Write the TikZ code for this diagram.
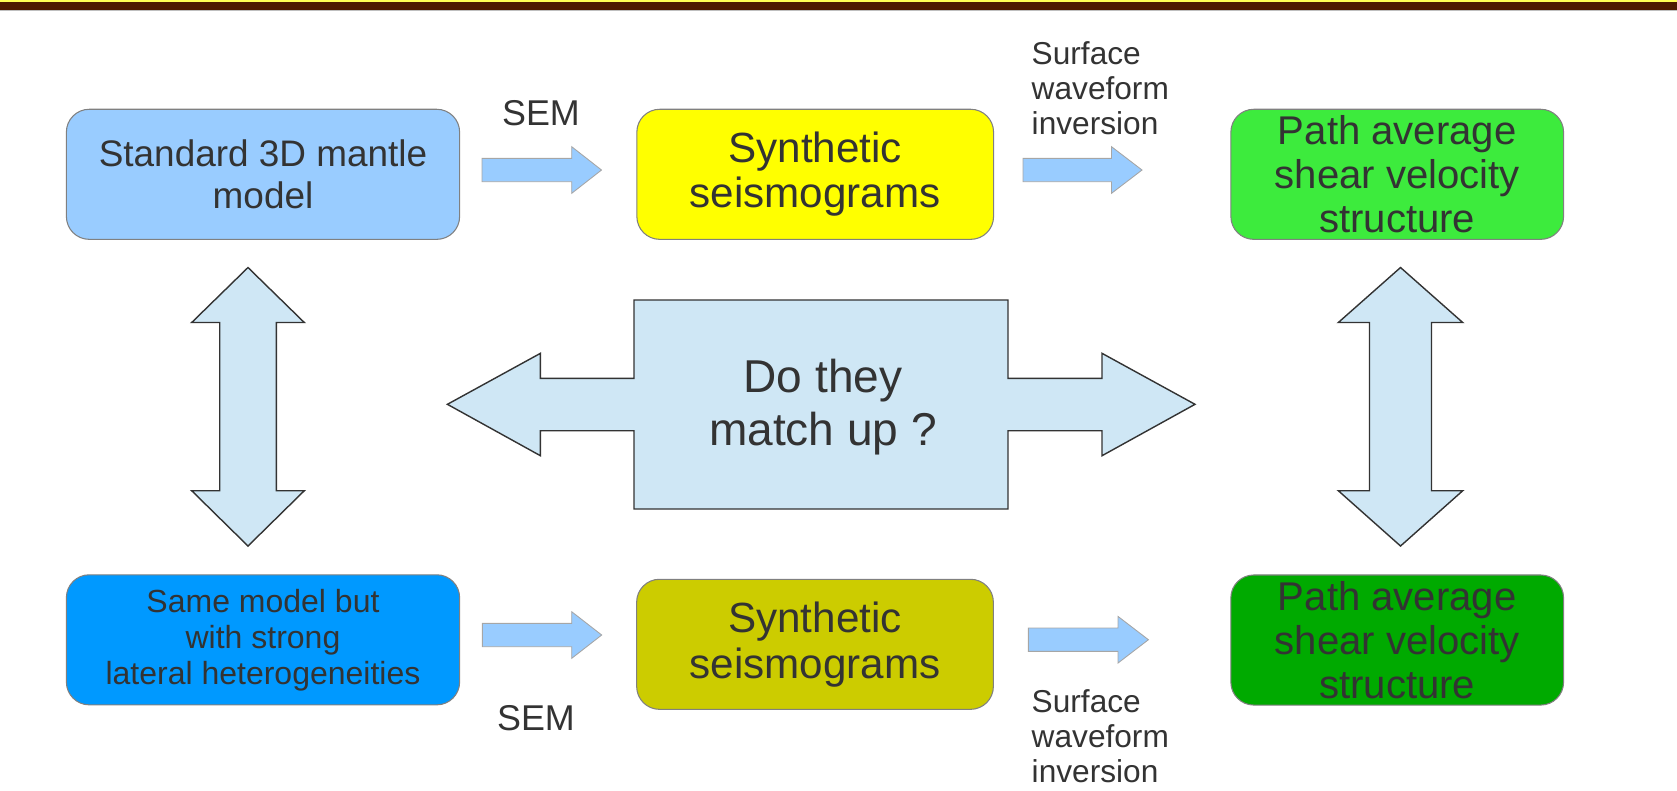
\documentclass[tikz,border=0pt]{standalone}
\usepackage{fontspec}
\setmainfont{Liberation Sans}

\definecolor{txt}{HTML}{333333}
\definecolor{stdblue}{HTML}{99CCFF}
\definecolor{latblue}{HTML}{0099FF}
\definecolor{synyellow}{HTML}{FFFF00}
\definecolor{synolive}{HTML}{CCCC00}
\definecolor{pathgreen}{HTML}{3DEB3D}
\definecolor{pathdark}{HTML}{00AA00}
\definecolor{arrowfill}{HTML}{99CCFF}
\definecolor{matchfill}{HTML}{CFE7F5}
\definecolor{barbrown}{HTML}{4D1A00}
\definecolor{baryellow}{HTML}{FFFF55}

\begin{document}
\begin{tikzpicture}[x=0.01cm, y=-0.01cm,
    box/.style={draw=black!50, line width=0.3pt, rounded corners=6.5pt, text=txt, align=center, inner sep=0pt, minimum height=1.30cm},
    lbl/.style={text=txt, inner sep=0pt},
    flatarrow/.style={fill=arrowfill, draw=black!35, line width=0.25pt},
    bigarrow/.style={fill=matchfill, draw=black!80, line width=0.4pt}]
\useasboundingbox (0,0) rectangle (1677,790);

% title bar
\fill[baryellow] (0,0) rectangle (1677,2);
\fill[barbrown] (0,2) rectangle (1677,9.5);
\fill[black!25] (0,9.5) rectangle (1677,11);

% top row
\node[box, fill=stdblue, minimum width=3.93cm, font=\fontsize{10.5}{11.7}\selectfont] (std) at (263,174.3) {Standard 3D mantle\\model};
\node[box, fill=synyellow, minimum width=3.565cm, font=\fontsize{12}{12.95}\selectfont] (syn1) at (815.2,174.3) {Synthetic\\seismograms};
\node[box, fill=pathgreen, minimum width=3.325cm, font=\fontsize{11.4}{12.5}\selectfont] (path1) at (1397.2,174.3) {Path average\\shear velocity\\structure};

% bottom row
\node[box, fill=latblue, minimum width=3.93cm, font=\fontsize{9.1}{10.24}\selectfont] (lat) at (263,639.8) {Same model but\\with strong\\lateral heterogeneities};
\node[box, fill=synolive, minimum width=3.565cm, font=\fontsize{12}{12.95}\selectfont] (syn2) at (815,644.3) {Synthetic\\seismograms};
\node[box, fill=pathdark, minimum width=3.325cm, font=\fontsize{11.4}{12.5}\selectfont] (path2) at (1397.2,640) {Path average\\shear velocity\\structure};

% flat arrows
\foreach \xa/\xb/\xc/\yc in {482/571.7/601.5/170, 1023/1111.5/1142/170, 482.3/571.7/601.7/635, 1028.4/1118/1148.4/639.7}
  \draw[flatarrow] (\xa,\yc-11.7) -- (\xb,\yc-11.7) -- (\xb,\yc-23.3) -- (\xc,\yc)
    -- (\xb,\yc+23.3) -- (\xb,\yc+11.7) -- (\xa,\yc+11.7) -- cycle;

% vertical double arrows
\foreach \xm/\hw/\sw in {248/56.3/28.3, 1400.5/62.2/31}
  \draw[bigarrow] (\xm,267.5) -- (\xm+\hw,322.5) -- (\xm+\sw,322.5) -- (\xm+\sw,490.7)
    -- (\xm+\hw,490.7) -- (\xm,546) -- (\xm-\hw,490.7) -- (\xm-\sw,490.7)
    -- (\xm-\sw,322.5) -- (\xm-\hw,322.5) -- cycle;

% central double arrow
\draw[bigarrow] (447.4,404.3) -- (540.4,353.3) -- (540.4,378.3) -- (634,378.3) -- (634,300)
  -- (1008,300) -- (1008,378.3) -- (1102,378.3) -- (1102,353.3) -- (1195,404.3)
  -- (1102,455.7) -- (1102,430.7) -- (1008,430.7) -- (1008,509) -- (634,509)
  -- (634,430.7) -- (540.4,430.7) -- (540.4,455.7) -- cycle;
\node[lbl, align=center, font=\fontsize{13.1}{15}\selectfont] (match) at (823,407) {Do they\\match up ?};

% labels
\node[lbl, anchor=base, font=\fontsize{10.2}{12}\selectfont] (sem1) at (541,125) {SEM};
\node[lbl, anchor=base, font=\fontsize{10.2}{12}\selectfont] (sem2) at (536,730) {SEM};
\node[lbl, anchor=north west, align=left, font=\fontsize{9}{10}\selectfont] (inv1) at (1031,40.5) {Surface\\waveform\\inversion};
\node[lbl, anchor=north west, align=left, font=\fontsize{9}{10}\selectfont] (inv2) at (1031,689) {Surface\\waveform\\inversion};
\end{tikzpicture}
\end{document}
